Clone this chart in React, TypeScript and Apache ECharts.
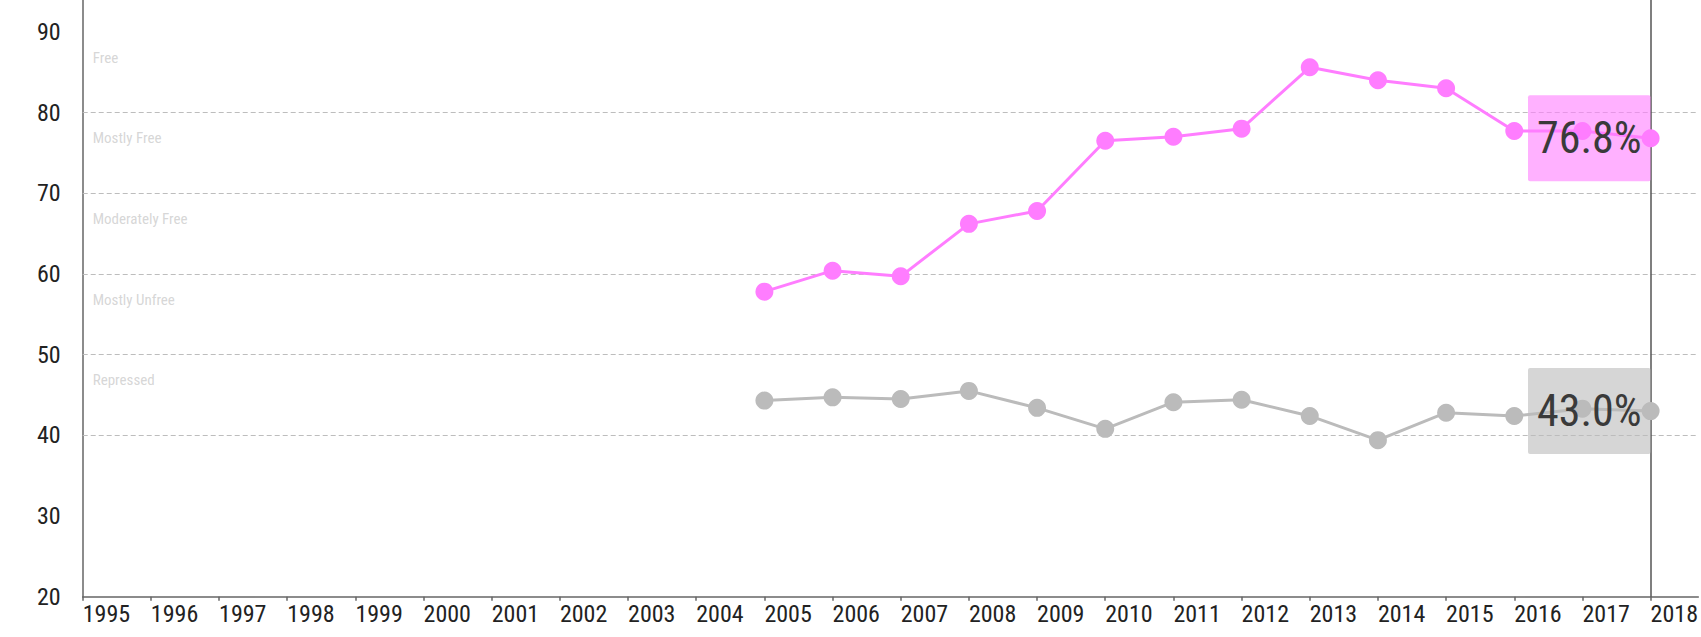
import React, { useEffect, useRef } from "react";
import * as echarts from "echarts";

const years = [2005, 2006, 2007, 2008, 2009, 2010, 2011, 2012, 2013, 2014, 2015, 2016, 2017, 2018];
const countryScores = [57.8, 60.4, 59.7, 66.2, 67.8, 76.5, 77.0, 78.0, 85.6, 84.0, 83.0, 77.7, 77.7, 76.8];
const averageScores = [44.3, 44.7, 44.5, 45.5, 43.4, 40.8, 44.1, 44.4, 42.4, 39.4, 42.8, 42.4, 43.3, 43.0];
const bandNames = ["Free", "Mostly Free", "Moderately Free", "Mostly Unfree", "Repressed"];
const bandLabelValues = [86.8, 76.8, 66.8, 56.8, 46.8];
const bandBoundaries = [80, 70, 60, 50, 40];
const xMin = 1995;
const xMax = 2018.7;
const endYear = 2018;
const yMin = 20;
const yMax = 100;
const yInterval = 10;
const yLabelMax = 90;

const FONT = "'Liberation Sans Narrow', 'Roboto Condensed', 'DejaVu Sans Condensed', sans-serif";
const PINK = "#ff7dff";
const GRAY = "#bbbbbb";

function endLabel(bg: string) {
  return {
    show: true,
    position: "left",
    distance: -9,
    formatter: (p: any) => p.value[1].toFixed(1) + "%",
    fontSize: 44,
    lineHeight: 44,
    fontFamily: FONT,
    color: "#3a3a3a",
    backgroundColor: bg,
    padding: [21, 9, 21, 9],
    borderRadius: 2,
  };
}

function buildData(values: number[], bg: string) {
  return years.map((y, i) => {
    if (y === endYear) {
      return { value: [y, values[i]], label: endLabel(bg) };
    }
    return { value: [y, values[i]] };
  });
}

export default function App() {
  const ref = useRef<HTMLDivElement>(null);
  useEffect(() => {
    if (!ref.current) return;
    const chart = echarts.init(ref.current, null, { renderer: "svg" });
    chart.setOption({
      animation: false,
      grid: { left: 82.7, right: 0, top: 11.1, bottom: 40.3, containLabel: false },
      xAxis: {
        type: "value",
        min: xMin,
        max: xMax,
        interval: 1,
        axisLine: { show: true, lineStyle: { color: "#666", width: 1.5 } },
        axisTick: { show: true, length: 4, lineStyle: { color: "#666", width: 1.5 } },
        splitLine: { show: false },
        axisLabel: {
          align: "left",
          margin: 5,
          fontSize: 24,
          fontFamily: FONT,
          color: "#222",
          showMaxLabel: false,
          formatter: (v: number) => (Number.isInteger(v) ? String(v) : ""),
        },
      },
      yAxis: {
        type: "value",
        min: yMin,
        max: yMax,
        interval: yInterval,
        axisLine: { show: true, lineStyle: { color: "#666", width: 1.5 } },
        axisTick: { show: false },
        splitLine: { show: false },
        axisLabel: {
          margin: 22,
          fontSize: 24,
          fontFamily: FONT,
          color: "#222",
          showMaxLabel: false,
          formatter: (v: number) => (v <= yLabelMax ? String(v) : ""),
        },
      },
      series: [
        {
          type: "scatter",
          z: 1,
          symbolSize: 0,
          silent: true,
          data: bandNames.map((n, i) => ({ name: n, value: [xMin, bandLabelValues[i]] })),
          label: {
            show: true,
            position: "right",
            distance: 10,
            formatter: (p: any) => p.name,
            fontSize: 15,
            fontFamily: FONT,
            color: "#cccccc",
          },
          markLine: {
            silent: true,
            z: 1,
            symbol: "none",
            label: { show: false },
            data: [
              ...bandBoundaries.map((v) => ({
                yAxis: v,
                lineStyle: { color: "#bdbdbd", width: 1, type: [5, 3] },
              })),
              { xAxis: endYear, lineStyle: { color: "#555", width: 1.5, type: "solid" } },
            ],
          },
        },
        {
          type: "line",
          z: 3,
          data: buildData(averageScores, "rgba(187,187,187,0.6)"),
          symbol: "circle",
          symbolSize: 18,
          lineStyle: { color: GRAY, width: 3 },
          itemStyle: { color: GRAY },
        },
        {
          type: "line",
          z: 4,
          data: buildData(countryScores, "rgba(255,125,255,0.6)"),
          symbol: "circle",
          symbolSize: 18,
          lineStyle: { color: PINK, width: 3 },
          itemStyle: { color: PINK },
        },
      ],
    });
    return () => chart.dispose();
  }, []);
  return (
    <div
      ref={ref}
      style={{ position: "absolute", left: 0, top: -60, width: 1701, height: 697 }}
    />
  );
}
